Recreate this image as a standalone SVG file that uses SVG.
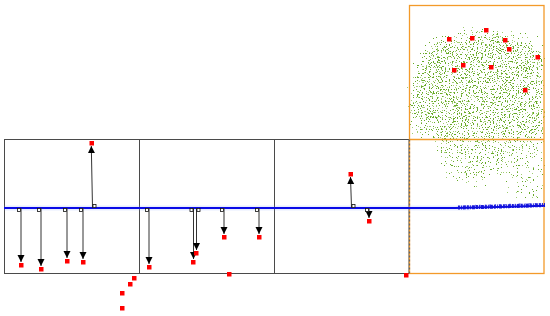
<svg xmlns="http://www.w3.org/2000/svg" width="550" height="316" viewBox="0 0 550 316">
<style>
.box{fill:none;stroke:#4a4a4a;stroke-width:1}
.orange{fill:none;stroke:#f39a2a;stroke-width:1.3}
.arrow{stroke:#333;stroke-width:1;fill:none;marker-end:url(#head)}
.foot{fill:#fff;stroke:#111;stroke-width:0.8}
.pt{fill:#ff0000}
</style>
<defs>
<marker id="head" markerUnits="userSpaceOnUse" markerWidth="8" markerHeight="8" refX="7" refY="3.5" orient="auto">
<path d="M0,0 L7,3.5 L0,7 Z" fill="#000"/>
</marker>
<filter id="dots" filterUnits="userSpaceOnUse" x="405" y="10" width="140" height="200" color-interpolation-filters="sRGB">
<feGaussianBlur in="SourceAlpha" stdDeviation="8" result="dens"/>
<feTurbulence type="fractalNoise" baseFrequency="0.75" numOctaves="1" seed="7" result="n1"/>
<feColorMatrix in="n1" type="matrix" values="0 0 0 0 0 0 0 0 0 0 0 0 0 0 0 1 0 0 0 0" result="a1"/>
<feComposite in="a1" in2="dens" operator="arithmetic" k1="0" k2="2" k3="0.55" k4="-0.9" result="m1"/>
<feComponentTransfer in="m1" result="t1"><feFuncA type="discrete" tableValues="0 0 0 0 0 0 0 0 0 1"/></feComponentTransfer>
<feFlood flood-color="#68aa28"/>
<feComposite in2="t1" operator="in" result="g1"/>
<feTurbulence type="fractalNoise" baseFrequency="0.8" numOctaves="1" seed="23" result="n2"/>
<feColorMatrix in="n2" type="matrix" values="0 0 0 0 0 0 0 0 0 0 0 0 0 0 0 1 0 0 0 0" result="a2"/>
<feComposite in="a2" in2="dens" operator="arithmetic" k1="0" k2="2" k3="0.5" k4="-0.9" result="m2"/>
<feComponentTransfer in="m2" result="t2"><feFuncA type="discrete" tableValues="0 0 0 0 0 0 0 0 0 1"/></feComponentTransfer>
<feFlood flood-color="#a2ce74"/>
<feComposite in2="t2" operator="in" result="g2"/>
<feMerge><feMergeNode in="g2"/><feMergeNode in="g1"/></feMerge>
</filter>
</defs>
<rect width="550" height="316" fill="#fff"/>

<g id="cloud" filter="url(#dots)">
<path d="M416,52 C430,32 455,24 480,24 C505,24 532,34 552,46 L552,140 L408,140 C400,112 406,78 416,52 Z" fill="#fff" fill-opacity="1"/>
<path d="M432,134 L506,134 C508,160 498,190 470,194 C448,192 432,165 432,134 Z" fill="#fff" fill-opacity="0.9"/>
<path d="M500,136 L552,136 L552,206 L500,206 Z" fill="#fff" fill-opacity="0.8"/>
</g>

<g id="frames">
<rect class="box" x="4.5" y="139.5" width="404.5" height="134"/>
<line class="box" x1="139.5" y1="139.5" x2="139.5" y2="273.5"/>
<line class="box" x1="274.5" y1="139.5" x2="274.5" y2="273.5"/>
<rect class="orange" x="409.5" y="5.5" width="134.5" height="268"/>
<line class="orange" x1="409.5" y1="139.5" x2="544" y2="139.5"/>
<line x1="409.5" y1="139.5" x2="409.5" y2="273.5" stroke="#666" stroke-width="1.2" stroke-dasharray="2 2"/>
</g>

<g id="ground">
<line x1="4" y1="208" x2="470" y2="208" stroke="#7f9cff" stroke-width="5" stroke-opacity="0.18"/>
<path d="M4,208 L455,208 C480,207.6 510,206.8 545,205.8" fill="none" stroke="#0a0ae6" stroke-width="2"/>
<path d="M458,207.5 C485,207 515,206 545,205" fill="none" stroke="#1010d8" stroke-width="4" stroke-dasharray="2 1 1 1 3 1" stroke-opacity="0.95"/>
<path d="M475,205.6 C495,205 520,204.3 545,203.5" fill="none" stroke="#2a2af0" stroke-width="1.5" stroke-dasharray="1 3 2 4" stroke-opacity="0.7"/>
</g>

<g id="connectors">
<line class="arrow" x1="21" y1="208" x2="21" y2="262"/>
<line class="arrow" x1="41" y1="208" x2="41" y2="266"/>
<line class="arrow" x1="67" y1="208" x2="67" y2="258"/>
<line class="arrow" x1="83" y1="208" x2="83" y2="259"/>
<line class="arrow" x1="92.5" y1="208" x2="91.3" y2="146"/>
<line class="arrow" x1="149" y1="208" x2="149" y2="264"/>
<line class="arrow" x1="193.5" y1="208" x2="193.5" y2="259"/>
<line class="arrow" x1="196.5" y1="208" x2="196.5" y2="250"/>
<line class="arrow" x1="224" y1="208" x2="224" y2="234"/>
<line class="arrow" x1="259" y1="208" x2="259" y2="234"/>
<line class="arrow" x1="351.5" y1="208" x2="350.5" y2="177"/>
<line class="arrow" x1="369" y1="208" x2="369" y2="218"/>
<rect class="foot" x="17.5" y="208.5" width="3" height="3"/>
<rect class="foot" x="37.5" y="208.5" width="3" height="3"/>
<rect class="foot" x="63.5" y="208.5" width="3" height="3"/>
<rect class="foot" x="79.5" y="208.5" width="3" height="3"/>
<rect class="foot" x="93" y="204.5" width="3" height="3"/>
<rect class="foot" x="145.5" y="208.5" width="3" height="3"/>
<rect class="foot" x="190" y="208.5" width="3" height="3"/>
<rect class="foot" x="197" y="208.5" width="3" height="3"/>
<rect class="foot" x="220.5" y="208.5" width="3" height="3"/>
<rect class="foot" x="255.5" y="208.5" width="3" height="3"/>
<rect class="foot" x="352" y="204.5" width="3" height="3"/>
<rect class="foot" x="365.5" y="208.5" width="3" height="3"/>
</g>

<g id="points">
<rect class="pt" x="19" y="263" width="4.5" height="4.5"/>
<rect class="pt" x="39" y="267" width="4.5" height="4.5"/>
<rect class="pt" x="65" y="259" width="4.5" height="4.5"/>
<rect class="pt" x="81" y="260" width="4.5" height="4.5"/>
<rect class="pt" x="89.5" y="141" width="4.5" height="4.5"/>
<rect class="pt" x="147" y="265" width="4.5" height="4.5"/>
<rect class="pt" x="191" y="260" width="4.5" height="4.5"/>
<rect class="pt" x="194" y="251" width="4.5" height="4.5"/>
<rect class="pt" x="222" y="235" width="4.5" height="4.5"/>
<rect class="pt" x="257" y="235" width="4.5" height="4.5"/>
<rect class="pt" x="348.5" y="172" width="4.5" height="4.5"/>
<rect class="pt" x="367" y="219" width="4.5" height="4.5"/>
<rect class="pt" x="132" y="276" width="4.5" height="4.5"/>
<rect class="pt" x="128" y="282" width="4.5" height="4.5"/>
<rect class="pt" x="120" y="291" width="4.5" height="4.5"/>
<rect class="pt" x="120" y="306" width="4.5" height="4.5"/>
<rect class="pt" x="227" y="272" width="4.5" height="4.5"/>
<rect class="pt" x="404" y="273" width="4.5" height="4.5"/>
<rect class="pt" x="447" y="37" width="4.5" height="4.5"/>
<rect class="pt" x="470" y="36" width="4.5" height="4.5"/>
<rect class="pt" x="484" y="28" width="4.5" height="4.5"/>
<rect class="pt" x="503" y="38" width="4.5" height="4.5"/>
<rect class="pt" x="507" y="47" width="4.5" height="4.5"/>
<rect class="pt" x="535.5" y="55" width="4.5" height="4.5"/>
<rect class="pt" x="461" y="63" width="4.5" height="4.5"/>
<rect class="pt" x="452" y="68" width="4.5" height="4.5"/>
<rect class="pt" x="489" y="65" width="4.5" height="4.5"/>
<rect class="pt" x="523" y="88" width="4.5" height="4.5"/>
</g>
</svg>
